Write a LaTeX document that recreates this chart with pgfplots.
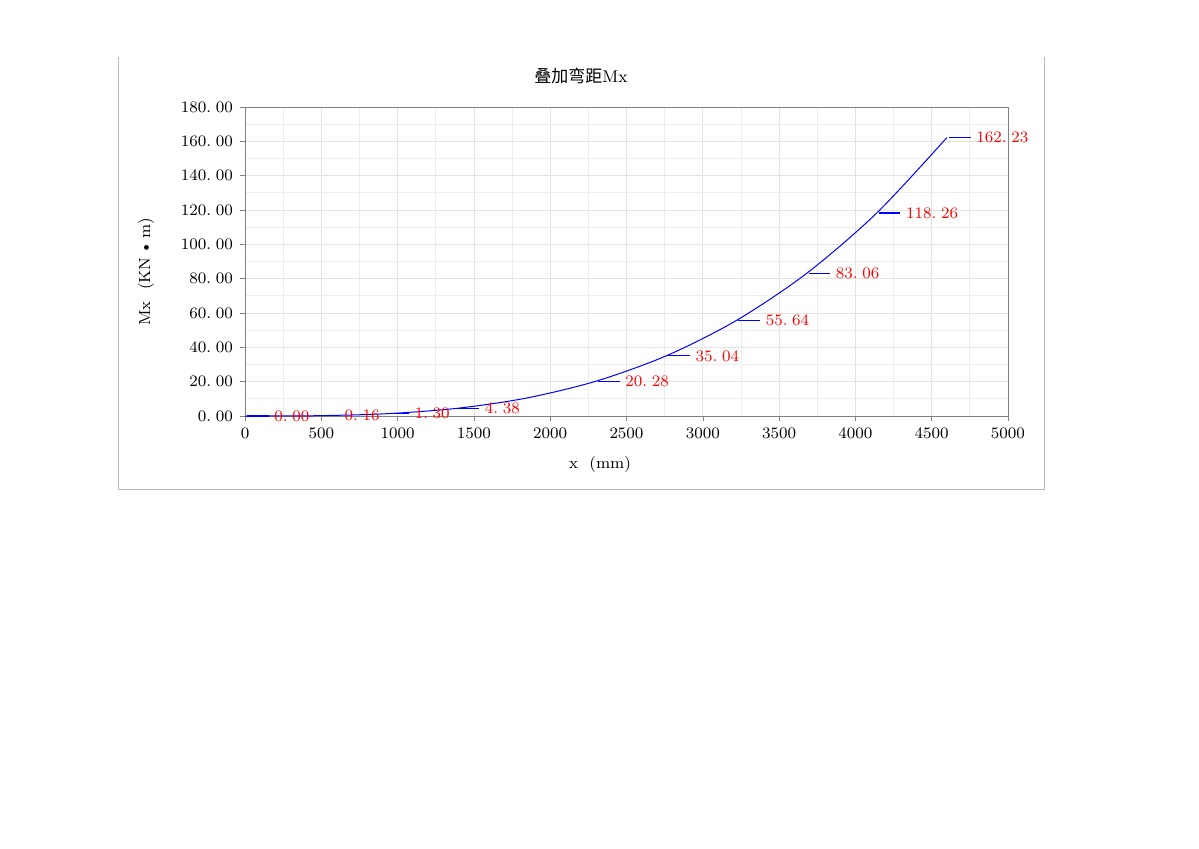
\documentclass[border=0pt]{standalone}
\usepackage{fontspec}
\usepackage{pgfplots}
\pgfplotsset{compat=1.18}
\newfontfamily\cjk{Noto Sans CJK SC}

\pgfplotstableread{
x     m
0     0.00
460   0.16
920   1.30
1380  4.38
1840  10.38
2300  20.28
2760  35.04
3220  55.64
3680  83.06
4140  118.26
4600  162.23
}\curve

\pgfplotstableread{
x     m
0     0.00
460   0.16
920   1.30
1380  4.38
2300  20.28
2760  35.04
3220  55.64
3680  83.06
4140  118.26
4600  162.23
}\labelled

% leader segments: start and end of each short line, nan breaks the path
\pgfplotstableread{
x     m
13    0.00
155   0.00
nan   nan
473   0.16
615   0.16
nan   nan
933   1.30
1075  1.30
nan   nan
1393  4.38
1535  4.38
nan   nan
2313  20.28
2455  20.28
nan   nan
2773  35.04
2915  35.04
nan   nan
3233  55.64
3375  55.64
nan   nan
3693  83.06
3835  83.06
nan   nan
4153  118.26
4295  118.26
nan   nan
4613  162.23
4755  162.23
}\leaders

\begin{document}
\begin{tikzpicture}
\path[use as bounding box] (0,0) rectangle (599.5pt,424pt);
% chart frame
\draw[gray!55] (59pt,395.5pt) -- (59pt,179.5pt) -- (522pt,179.5pt) -- (522pt,395.5pt);

\begin{axis}[
  at={(122.5pt,216pt)}, anchor=south west,
  scale only axis,
  width=381.5pt, height=154.5pt,
  xmin=0, xmax=5000, ymin=0, ymax=180,
  xtick distance=500, ytick distance=20,
  minor tick num=1,
  grid=both,
  major grid style={gray!22},
  minor grid style={gray!14},
  axis line style={gray},
  tick style={gray},
  minor tick length=0pt,
  major tick length=2.5pt,
  tick align=outside,
  tick pos=left,
  scaled ticks=false,
  tick label style={font=\fontsize{7.7pt}{9pt}\selectfont},
  x tick label style={/pgf/number format/set thousands separator={}},
  y tick label style={/pgf/number format/.cd, fixed, fixed zerofill, precision=2, dec sep={.\;}},
  unbounded coords=jump,
  clip=false,
]
\addplot[blue, line width=0.5pt, smooth] table[x=x, y=m] {\curve};
\addplot[blue, line width=0.6pt, mark=none] table[x=x, y=m] {\leaders};
% value labels
\addplot[red, mark=none, draw=none,
  point meta=y,
  nodes near coords={\pgfmathprintnumber[fixed, fixed zerofill, precision=2, dec sep={.\;}]{\pgfplotspointmeta}},
  every node near coord/.append style={anchor=west, xshift=14.5pt, inner sep=0pt, text=red,
    font=\fontsize{8.5pt}{10pt}\selectfont},
] table[x=x, y=m] {\labelled};
\end{axis}

\node[font=\fontsize{8.5pt}{10pt}\selectfont] at (290.5pt,386pt) {{\cjk 叠加弯距}Mx};
\node[font=\fontsize{8pt}{10pt}\selectfont] at (300pt,192pt) {x\ \ (mm)};
\node[font=\fontsize{8pt}{10pt}\selectfont, rotate=90] at (73pt,288pt) {Mx\ \ (KN\,\textbullet\,m)};
\end{tikzpicture}
\end{document}
